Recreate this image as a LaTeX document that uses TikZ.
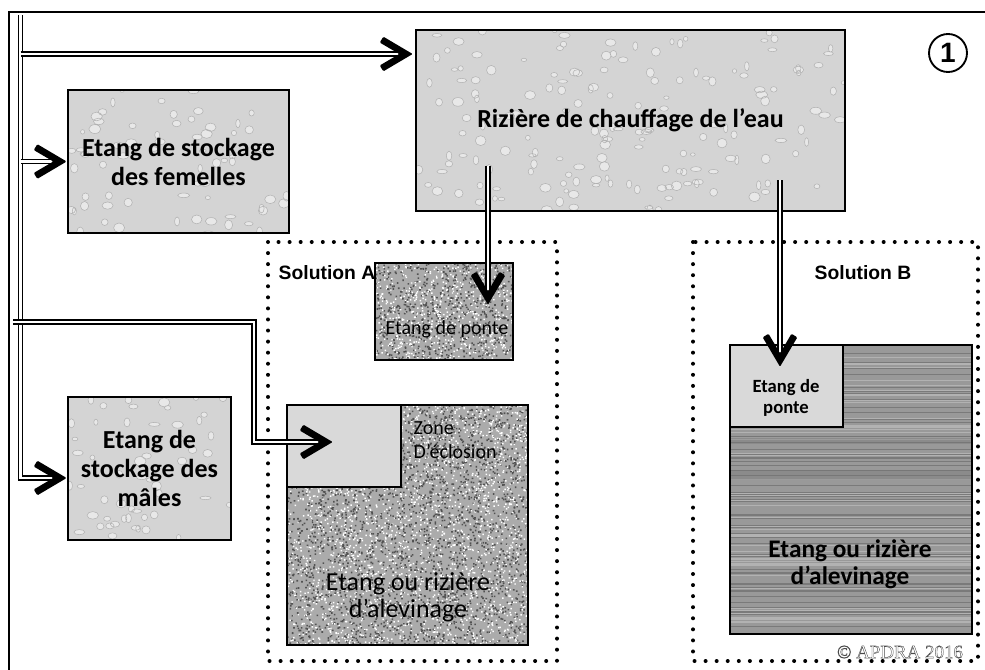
\documentclass[tikz,border=0pt]{standalone}
\usepackage{fontspec}
\setmainfont{Carlito}
\newfontfamily\arialfont{Liberation Sans}
\newfontfamily\timesfont{Liberation Serif}
\usetikzlibrary{calc,decorations.markings}

\newcommand{\pxu}{0.75pt}
\newcommand{\hollow}[1]{\special{pdf:literal direct q 1 Tr 0.3 w}#1\special{pdf:literal direct Q}}
\pgfmathsetseed{7}

\tikzset{pipe/.style = {draw, line width=0.9pt, double=white, double distance=2.2pt}}
\tikzset{feed/.style = {pipe, decoration={markings, mark=at position 1 with {\fill[rounded corners=0.8pt] (3.5pt,0pt) -- (-18.5pt,13pt) -- (-21.2pt,8.6pt) -- (-6.5pt,0pt) -- (-21.2pt,-8.6pt) -- (-18.5pt,-13pt) -- cycle;}}, postaction={decorate}}}
\tikzset{pond/.style = {draw, line width=1.5pt, inner sep=0pt, outer sep=0pt}}
\tikzset{dotframe/.style = {line width=3pt, line cap=round, dash pattern=on 0pt off 8.3pt}}
\tikzset{
  drops/.style = {pond, fill=black!17, path picture={
      \fill[black!9, draw=black!30, line width=0.4pt]
        let \p1=(path picture bounding box.south west), \p2=(path picture bounding box.north east) in
        foreach \k in {1,...,#1} {({\x1+rnd*(\x2-\x1)}, {\y1+rnd*(\y2-\y1)}) circle[x radius={1.5pt+3*rnd*1pt}, y radius={1.2pt+2.5*rnd*1pt}]};}},
  granite/.style = {pond, fill=black!33, path picture={
      \foreach \j in {1,...,#1} {
        \fill[black!68]
          let \p1=(path picture bounding box.south west), \p2=(path picture bounding box.north east) in
          foreach \k in {1,...,100} {({\x1+rnd*(\x2-\x1)}, {\y1+rnd*(\y2-\y1)}) rectangle ++(1.2pt,1.2pt)};
        \fill[white]
          let \p1=(path picture bounding box.south west), \p2=(path picture bounding box.north east) in
          foreach \k in {1,...,90} {({\x1+rnd*(\x2-\x1)}, {\y1+rnd*(\y2-\y1)}) rectangle ++(1.1pt,1.1pt)};
      }}},
  wood/.style = {pond, fill=black!40, path picture={
      \draw[black!52, line width=0.45pt]
        let \p1=(path picture bounding box.south west), \p2=(path picture bounding box.north east) in
        foreach \k in {1,...,70} {({\x1}, {\y1+rnd*(\y2-\y1)}) -- ++({\x2-\x1}, 0pt)};
      \draw[black!30, line width=0.4pt]
        let \p1=(path picture bounding box.south west), \p2=(path picture bounding box.north east) in
        foreach \k in {1,...,55} {({\x1}, {\y1+rnd*(\y2-\y1)}) -- ++({\x2-\x1}, 0pt)};
      \fill[black!55, opacity=0.35] ([yshift=-68pt]path picture bounding box.north west) rectangle ([yshift=-74pt]path picture bounding box.north east);
      \fill[black!55, opacity=0.35] ([yshift=-94pt]path picture bounding box.north west) rectangle ([yshift=-101pt]path picture bounding box.north east);}},
  innerpond/.style = {pond, fill=black!15, line width=1.2pt},
  boxtext/.style = {font=\bfseries\fontsize{19.5}{21.75}\selectfont, align=center},
  bigtext/.style = {font=\bfseries\fontsize{19}{20.25}\selectfont, align=center},
  regtext/.style = {font=\fontsize{19.5}{20.25}\selectfont, align=center},
  smalltext/.style = {font=\fontsize{15}{18}\selectfont, align=center},
  smallbold/.style = {font=\bfseries\fontsize{14}{15.75}\selectfont, align=center},
  soltext/.style = {font=\arialfont\bfseries\fontsize{14.5}{16}\selectfont}
}

\begin{document}
\begin{tikzpicture}[x=\pxu, y=-\pxu]
  \useasboundingbox (0,0) rectangle (985,669);
  \draw [line width=1.5pt] (9,690) |- (1000,12);

  % stocking and heating ponds
  \node [drops=170, minimum width=429*\pxu, minimum height=181*\pxu, boxtext] (rice) at (630.5,120.5) {Rizière de chauffage de l’eau};
  \node [drops=70, minimum width=221*\pxu, minimum height=143*\pxu, boxtext] (fem) at (178.5,161.5) {Etang de stockage\\des femelles};
  \node [drops=55, minimum width=163*\pxu, minimum height=143*\pxu, boxtext] (male) at (149.5,468.5) {Etang de\\stockage des\\mâles};

  % solution A
  \draw [dotframe] (268,242) rectangle (557,661);
  \node [soltext, anchor=west] (solA) at (274,273) {Solution A};
  \node [granite=7, minimum width=138*\pxu, minimum height=97*\pxu] (ponteA) at (444,311.5) {};
  \node [smalltext] (ponteAtxt) at (447,329) {Etang de ponte};
  \node [granite=28, minimum width=241*\pxu, minimum height=240*\pxu] (alevA) at (407.5,525) {};
  \node [innerpond, minimum width=114*\pxu, minimum height=82*\pxu, anchor=north west] (zoneA) at (alevA.north west) {};
  \node [smalltext, align=left, anchor=west] (zoneAtxt) at (409,440) {Zone\\D’éclosion};
  \node [regtext] (alevAtxt) at (408,597) {Etang ou rizière\\d’alevinage};

  % solution B
  \draw [dotframe] (693,242) rectangle (978,661);
  \node [soltext] (solB) at (863,273) {Solution B};
  \node [wood, minimum width=242*\pxu, minimum height=289*\pxu] (alevB) at (851,489.5) {};
  \node [innerpond, minimum width=113*\pxu, minimum height=82*\pxu, anchor=north west] (ponteB) at (alevB.north west) {};
  \node [smallbold] (ponteBtxt) at (786,398) {Etang de\\ponte};
  \node [bigtext] (alevBtxt) at (850,564) {Etang ou rizière\\d’alevinage};

  \node [circle, draw, line width=1.4pt, minimum size=38*\pxu, inner sep=0pt, font=\arialfont\bfseries\fontsize{21}{21}\selectfont] (one) at (948,53) {1};
  \node [font=\timesfont\fontsize{14.2}{15}\selectfont, text=black!70] (copy) at (900,652) {\hollow{© APDRA 2016}};

  % water supply
  \coordinate (src) at (20.5,15);
  \coordinate (stub) at (13,322);
  \coordinate (riceA) at (488,166);
  \coordinate (riceB) at (780,180);
  \draw [feed] (src) |- ($(male.west)+(-6,9.5)$);
  \draw [feed] (src |- fem.west) -- ($(fem.west)+(-6,0)$);
  \draw [feed] ($(src)+(0,39)$) -- ($(rice.north west)+(-8,24)$);
  \draw [feed] (stub) -| (254,442) -- ($(zoneA.north west)+(41,37)$);
  \draw [feed] (riceA) -- ($(ponteA.north west)+(113,37)$);
  \draw [feed] (riceB) -- ($(ponteB.north west)+(50,17)$);
\end{tikzpicture}
\end{document}
